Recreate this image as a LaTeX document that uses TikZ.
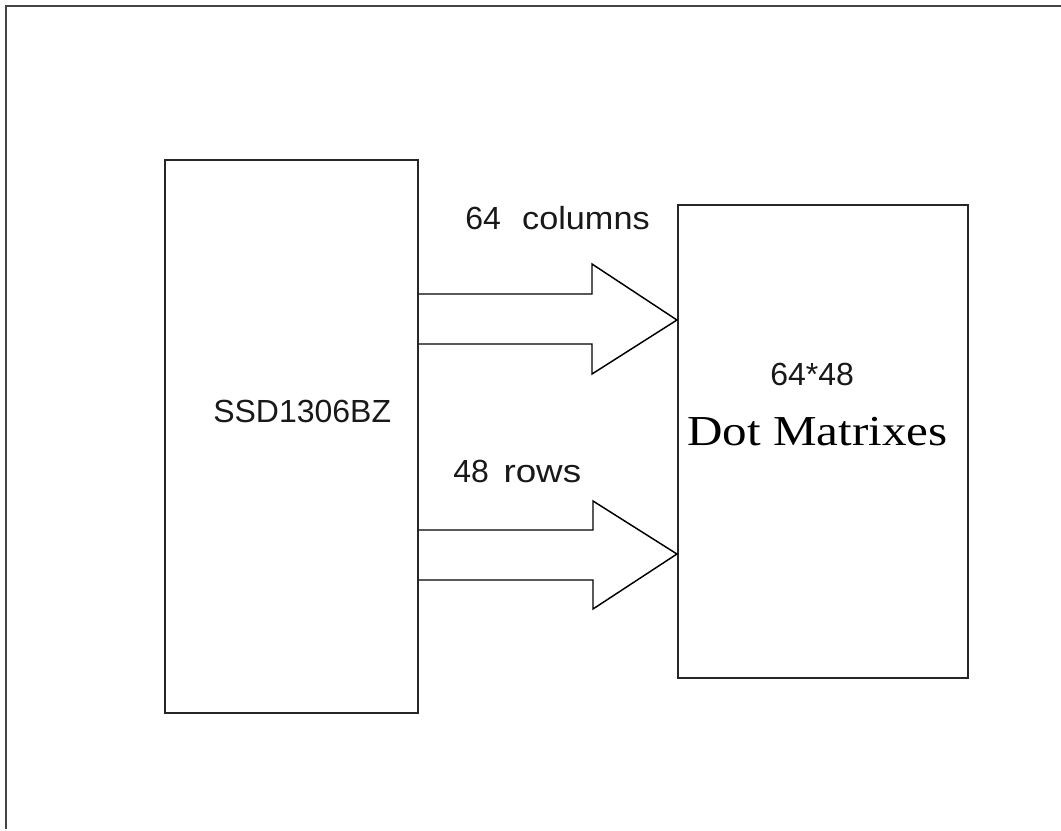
\documentclass[tikz,border=0pt]{standalone}
\usepackage{fontspec}
\setmainfont{Liberation Serif}
\newfontfamily\labelfont{Liberation Sans}
\usetikzlibrary{calc}
\definecolor{framegray}{HTML}{444444}
\tikzset{
  blockbox/.style={draw=black!85, line width=1.6pt, inner sep=0pt, rectangle},
  blockarrow/.style={draw=black, line width=1.1pt, line join=miter},
  sanslabel/.style={font=\labelfont\fontsize{24}{28}\selectfont, inner sep=0pt, text=black!90},
  seriflabel/.style={font=\fontsize{32}{36}\selectfont, inner sep=0pt, text=black},
}
\begin{document}
\begin{tikzpicture}[x=0.75pt,y=-0.75pt]
\useasboundingbox (0,0) rectangle (1061,831);
% outer frame (top and left edges only)
\draw[framegray, line width=1.6pt] (6,829) -- (6,6) -- (1061,6);
% blocks
\node[blockbox, minimum width=189.75pt, minimum height=414.75pt] (ssd) at (291.5,436.5) {};
\node[blockbox, minimum width=217.5pt, minimum height=354.75pt] (dot) at (823,441.5) {};
% tips of the block arrows on the matrix block
\coordinate (tipA) at (dot.west |- 0,320);
\coordinate (tipB) at (dot.west |- 0,554);
% upper block arrow
\draw[blockarrow] (ssd.east |- 0,294) -- (592,294) -- (592,264) -- (tipA)
  -- (592,374) -- (592,344) -- (ssd.east |- 0,344);
% lower block arrow
\draw[blockarrow] (ssd.east |- 0,530) -- (593,530) -- (593,501) -- (tipB)
  -- (593,609) -- (593,580) -- (ssd.east |- 0,580);
% labels
\node[sanslabel, anchor=base west] (chip) at (213,422) {SSD1306BZ};
\node[sanslabel, anchor=base west] (cols) at (465,229) {64\hspace{16pt}\scalebox{1.07}[1]{columns}};
\node[sanslabel, anchor=base west] (rows) at (453,482) {48\hspace{11pt}\scalebox{1.15}[1]{rows}};
\node[sanslabel, anchor=base west] (size) at (770,385) {64*48};
\node[seriflabel, anchor=base west] (dm) at (687,445) {\scalebox{1.15}[1]{Dot Matrixes}};
\end{tikzpicture}
\end{document}
